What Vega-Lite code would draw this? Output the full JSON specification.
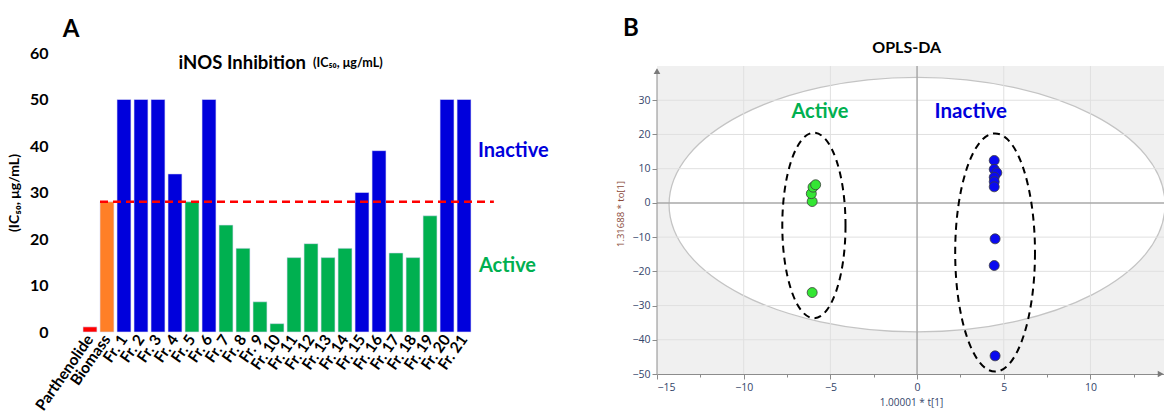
{
  "$schema": "https://vega.github.io/schema/vega-lite/v6.json",
  "background": "white",
  "padding": {"left": 7, "top": 16, "right": 0, "bottom": 0},
  "bounds": "flush",
  "config": {"view": {"stroke": null}, "font": "Lato"},
  "spacing": 169,
  "hconcat": [
    {
      "width": 422,
      "height": 279,
      "data": {"values": [
        {"name": "Parthenolide", "v": 1.1, "g": "Control"},
        {"name": "Biomass", "v": 28, "g": "Biomass"},
        {"name": "Fr. 1", "v": 50, "g": "Inactive"},
        {"name": "Fr. 2", "v": 50, "g": "Inactive"},
        {"name": "Fr. 3", "v": 50, "g": "Inactive"},
        {"name": "Fr. 4", "v": 34, "g": "Inactive"},
        {"name": "Fr. 5", "v": 28, "g": "Active"},
        {"name": "Fr. 6", "v": 50, "g": "Inactive"},
        {"name": "Fr. 7", "v": 23, "g": "Active"},
        {"name": "Fr. 8", "v": 18, "g": "Active"},
        {"name": "Fr. 9", "v": 6.5, "g": "Active"},
        {"name": "Fr. 10", "v": 1.8, "g": "Active"},
        {"name": "Fr. 11", "v": 16, "g": "Active"},
        {"name": "Fr. 12", "v": 19, "g": "Active"},
        {"name": "Fr. 13", "v": 16, "g": "Active"},
        {"name": "Fr. 14", "v": 18, "g": "Active"},
        {"name": "Fr. 15", "v": 30, "g": "Inactive"},
        {"name": "Fr. 16", "v": 39, "g": "Inactive"},
        {"name": "Fr. 17", "v": 17, "g": "Active"},
        {"name": "Fr. 18", "v": 16, "g": "Active"},
        {"name": "Fr. 19", "v": 25, "g": "Active"},
        {"name": "Fr. 20", "v": 50, "g": "Inactive"},
        {"name": "Fr. 21", "v": 50, "g": "Inactive"}
      ]},
      "layer": [
        {
          "mark": {"type": "bar", "stroke": "#dcdcf5", "strokeWidth": 0.6},
          "encoding": {
            "x": {"field": "name", "type": "nominal", "sort": null,
              "scale": {"paddingInner": 0.18, "paddingOuter": 1},
              "axis": {"title": null, "domain": false, "ticks": false, "labelAngle": -55, "labelAlign": "right", "labelBaseline": "middle", "labelFontSize": 15.5, "labelFontWeight": "bold", "labelColor": "black", "labelPadding": 4, "labelFont": "Lato"}},
            "y": {"field": "v", "type": "quantitative",
              "scale": {"domain": [0, 60], "nice": false},
              "axis": {"values": [0, 10, 20, 30, 40, 50, 60], "grid": false, "domain": false, "ticks": false, "labelFontSize": 16, "labelFontWeight": "bold", "labelColor": "black", "labelPadding": 18, "labelFont": "Lato",
                "title": "(IC₅₀, μg/mL)", "titleFontSize": 14, "titleFontWeight": "bold", "titleColor": "black", "titlePadding": 8, "titleFont": "Lato"}},
            "color": {"field": "g", "type": "nominal",
              "scale": {"domain": ["Control", "Biomass", "Inactive", "Active"], "range": ["#ff0000", "#ff7f27", "#0000dc", "#00b050"]},
              "legend": null}
          }
        },
        {
          "data": {"values": [{}]},
          "mark": {"type": "rule", "color": "#ff0000", "strokeDash": [8, 5], "strokeWidth": 2.5},
          "encoding": {"x": {"datum": "Biomass", "bandPosition": 0, "type": "nominal"}, "x2": {"datum": "Fr. 21", "bandPosition": 2.64}, "y": {"datum": 28, "type": "quantitative"}}
        },
        {
          "data": {"values": [{}]},
          "mark": {"type": "text", "text": "A", "fontSize": 24, "fontWeight": "bold", "font": "Lato", "align": "center", "baseline": "middle", "dx": -12, "color": "black"},
          "encoding": {"x": {"datum": "Parthenolide", "bandPosition": 0, "type": "nominal"}, "y": {"datum": 64.9, "type": "quantitative"}}
        },
        {
          "data": {"values": [{}]},
          "mark": {"type": "text", "text": "iNOS Inhibition", "fontSize": 18.5, "fontWeight": "bold", "font": "Lato", "align": "right", "baseline": "middle", "dx": 2, "color": "black"},
          "encoding": {"x": {"datum": "Fr. 12", "bandPosition": 0, "type": "nominal"}, "y": {"datum": 57.9, "type": "quantitative"}}
        },
        {
          "data": {"values": [{}]},
          "mark": {"type": "text", "text": "(IC₅₀, μg/mL)", "fontSize": 12.5, "fontWeight": "bold", "font": "Lato", "align": "left", "baseline": "middle", "dx": 9, "color": "black"},
          "encoding": {"x": {"datum": "Fr. 12", "bandPosition": 0, "type": "nominal"}, "y": {"datum": 57.9, "type": "quantitative"}}
        },
        {
          "data": {"values": [{}]},
          "mark": {"type": "text", "text": "Inactive", "fontSize": 20, "fontWeight": "bold", "font": "Lato", "align": "left", "baseline": "middle", "dx": 7, "color": "#0000dc"},
          "encoding": {"x": {"datum": "Fr. 21", "bandPosition": 1, "type": "nominal"}, "y": {"datum": 39, "type": "quantitative"}}
        },
        {
          "data": {"values": [{}]},
          "mark": {"type": "text", "text": "Active", "fontSize": 20, "fontWeight": "bold", "font": "Lato", "align": "left", "baseline": "middle", "dx": 8, "color": "#00b050"},
          "encoding": {"x": {"datum": "Fr. 21", "bandPosition": 1, "type": "nominal"}, "y": {"datum": 14.2, "type": "quantitative"}}
        }
      ]
    },
    {
      "width": 508,
      "height": 321,
      "view": {"fill": null, "stroke": null},
      "layer": [
        {
          "data": {"values": [{}]},
          "mark": {"type": "rect", "color": "#f0f0f0", "opacity": 1},
          "encoding": {
            "x": {"datum": -15, "type": "quantitative", "scale": {"domain": [-15, 14.3], "nice": false, "zero": false},
              "axis": {"values": [-15, -12.5, -10, -7.5, -5, -2.5, 0, 2.5, 5, 7.5, 10, 12.5],
                "labelExpr": "datum.value % 5 === 0 ? format(datum.value, 'd') : ''",
                "labelOverlap": false, "grid": false,
                "tickSize": {"condition": {"test": "datum.value % 5 === 0", "value": 5}, "value": 3},
                "domainColor": "#8c8c8c", "tickColor": "#8c8c8c", "labelColor": "#34456a", "labelFontSize": 10.5, "labelFont": "Open Sans", "labelPadding": 3,
                "title": "1.00001 * t[1]", "titleFontSize": 10, "titleFontWeight": "normal", "titleColor": "#34456a", "titleFont": "Open Sans", "titlePadding": 5}},
            "x2": {"datum": 14.3},
            "y": {"datum": -50, "type": "quantitative", "scale": {"domain": [-50, 43.8], "nice": false, "zero": false},
              "axis": {"values": [-50, -45, -40, -35, -30, -25, -20, -15, -10, -5, 0, 5, 10, 15, 20, 25, 30, 35],
                "labelExpr": "datum.value % 10 === 0 ? format(datum.value, 'd') : ''",
                "labelOverlap": false, "grid": false, "domain": false,
                "tickSize": {"condition": {"test": "datum.value % 10 === 0", "value": 5}, "value": 3},
                "tickColor": "#8c8c8c", "labelColor": "#34456a", "labelFontSize": 10.5, "labelFont": "Open Sans", "labelPadding": 2,
                "title": "1.31688 * to[1]", "titleFontSize": 9.5, "titleFontWeight": "normal", "titleColor": "#8a4a3a", "titleFont": "Open Sans", "titlePadding": 6}},
            "y2": {"datum": 40}
          }
        },
        {
          "data": {"values": [{"cx": 0, "cy": -0.5}]},
          "mark": {"type": "point", "shape": "M1,0 C1,0.2833 0.5523,0.513 0,0.513 C-0.5523,0.513 -1,0.2833 -1,0 C-1,-0.2833 -0.5523,-0.513 0,-0.513 C0.5523,-0.513 1,-0.2833 1,0 Z", "size": 246016, "filled": true, "fill": "white", "stroke": "#c4c4c4", "strokeWidth": 1.3, "opacity": 1, "fillOpacity": 1, "strokeOpacity": 1},
          "encoding": {"x": {"field": "cx", "type": "quantitative"}, "y": {"field": "cy", "type": "quantitative"}}
        },
        {
          "data": {"values": [{"gx": -10}, {"gx": -5}, {"gx": 5}, {"gx": 10}]},
          "mark": {"type": "rule", "color": "#e0e0e0", "strokeWidth": 1},
          "encoding": {"x": {"field": "gx", "type": "quantitative"}, "y": {"datum": -50, "type": "quantitative"}, "y2": {"datum": 40}}
        },
        {
          "data": {"values": [{"gy": -40}, {"gy": -30}, {"gy": -20}, {"gy": -10}, {"gy": 10}, {"gy": 20}, {"gy": 30}]},
          "mark": {"type": "rule", "color": "#e0e0e0", "strokeWidth": 1},
          "encoding": {"y": {"field": "gy", "type": "quantitative"}, "x": {"datum": -15, "type": "quantitative"}, "x2": {"datum": 14.3}}
        },
        {
          "data": {"values": [{}]},
          "mark": {"type": "rule", "color": "#a8a8a8", "strokeWidth": 1.5},
          "encoding": {"x": {"datum": 0, "type": "quantitative"}, "y": {"datum": -50, "type": "quantitative"}, "y2": {"datum": 40}}
        },
        {
          "data": {"values": [{}]},
          "mark": {"type": "rule", "color": "#a8a8a8", "strokeWidth": 1.5},
          "encoding": {"y": {"datum": 0, "type": "quantitative"}, "x": {"datum": -15, "type": "quantitative"}, "x2": {"datum": 14.3}}
        },
        {
          "data": {"values": [{}]},
          "mark": {"type": "rule", "color": "#8c8c8c", "strokeWidth": 1},
          "encoding": {"x": {"datum": -15, "type": "quantitative"}, "y": {"datum": -50, "type": "quantitative"}, "y2": {"datum": 39}}
        },
        {
          "data": {"values": [{"cx": -5.95, "cy": -6.6}]},
          "mark": {"type": "point", "shape": "M0.341,0 C0.341,0.5523 0.1883,1 0,1 C-0.1883,1 -0.341,0.5523 -0.341,0 C-0.341,-0.5523 -0.1883,-1 0,-1 C0.1883,-1 0.341,-0.5523 0.341,0 Z", "size": 34373, "filled": false, "stroke": "black", "strokeWidth": 2, "strokeDash": [7, 5], "opacity": 1},
          "encoding": {"x": {"field": "cx", "type": "quantitative"}, "y": {"field": "cy", "type": "quantitative"}}
        },
        {
          "data": {"values": [{"cx": 4.5, "cy": -14.5}]},
          "mark": {"type": "point", "shape": "M0.335,0 C0.335,0.5523 0.185,1 0,1 C-0.185,1 -0.335,0.5523 -0.335,0 C-0.335,-0.5523 -0.185,-1 0,-1 C0.185,-1 0.335,-0.5523 0.335,0 Z", "size": 56739, "filled": false, "stroke": "black", "strokeWidth": 2, "strokeDash": [7, 5], "opacity": 1},
          "encoding": {"x": {"field": "cx", "type": "quantitative"}, "y": {"field": "cy", "type": "quantitative"}}
        },
        {
          "data": {"values": [
            {"t1": -6.05, "to1": -26.2, "cls": "Active"},
            {"t1": -6.05, "to1": 0.4, "cls": "Active"},
            {"t1": -6.1, "to1": 2.7, "cls": "Active"},
            {"t1": -6.0, "to1": 4.6, "cls": "Active"},
            {"t1": -5.85, "to1": 5.3, "cls": "Active"},
            {"t1": 4.45, "to1": 12.4, "cls": "Inactive"},
            {"t1": 4.45, "to1": 9.8, "cls": "Inactive"},
            {"t1": 4.6, "to1": 8.8, "cls": "Inactive"},
            {"t1": 4.45, "to1": 7.5, "cls": "Inactive"},
            {"t1": 4.45, "to1": 6.2, "cls": "Inactive"},
            {"t1": 4.45, "to1": 4.7, "cls": "Inactive"},
            {"t1": 4.5, "to1": -10.5, "cls": "Inactive"},
            {"t1": 4.45, "to1": -18.3, "cls": "Inactive"},
            {"t1": 4.5, "to1": -44.7, "cls": "Inactive"}
          ]},
          "mark": {"type": "point", "filled": true, "size": 100, "stroke": "#3c3c3c", "strokeWidth": 0.8, "opacity": 1},
          "encoding": {
            "x": {"field": "t1", "type": "quantitative"},
            "y": {"field": "to1", "type": "quantitative"},
            "fill": {"field": "cls", "type": "nominal", "scale": {"domain": ["Active", "Inactive"], "range": ["#33e633", "#0a0af0"]}, "legend": null}
          }
        },
        {
          "data": {"values": [{}]},
          "mark": {"type": "text", "text": "Active", "fontSize": 20, "fontWeight": "bold", "font": "Lato", "color": "#00b050", "align": "center", "baseline": "middle"},
          "encoding": {"x": {"datum": -5.6, "type": "quantitative"}, "y": {"datum": 26.5, "type": "quantitative"}}
        },
        {
          "data": {"values": [{}]},
          "mark": {"type": "text", "text": "Inactive", "fontSize": 20.5, "fontWeight": "bold", "font": "Lato", "color": "#0000dc", "align": "center", "baseline": "middle"},
          "encoding": {"x": {"datum": 3.1, "type": "quantitative"}, "y": {"datum": 26.5, "type": "quantitative"}}
        },
        {
          "data": {"values": [{}]},
          "mark": {"type": "point", "shape": "triangle-up", "size": 45, "filled": true, "color": "#7a7a7a", "opacity": 1},
          "encoding": {"x": {"datum": -15, "type": "quantitative"}, "y": {"datum": 38.5, "type": "quantitative"}}
        },
        {
          "data": {"values": [{}]},
          "mark": {"type": "point", "shape": "triangle-right", "size": 45, "filled": true, "color": "#7a7a7a", "opacity": 1},
          "encoding": {"x": {"datum": 14.05, "type": "quantitative"}, "y": {"datum": -50, "type": "quantitative"}}
        },
        {
          "data": {"values": [{}]},
          "mark": {"type": "text", "text": "OPLS-DA", "fontSize": 16, "fontWeight": "bold", "font": "Lato", "color": "black", "align": "center", "baseline": "middle"},
          "encoding": {"x": {"datum": -0.6, "type": "quantitative"}, "y": {"datum": 45.2, "type": "quantitative"}}
        },
        {
          "data": {"values": [{}]},
          "mark": {"type": "text", "text": "B", "fontSize": 24, "fontWeight": "bold", "font": "Lato", "color": "black", "align": "center", "baseline": "middle", "dx": -26},
          "encoding": {"x": {"datum": -15, "type": "quantitative"}, "y": {"datum": 50.9, "type": "quantitative"}}
        }
      ]
    }
  ]
}
